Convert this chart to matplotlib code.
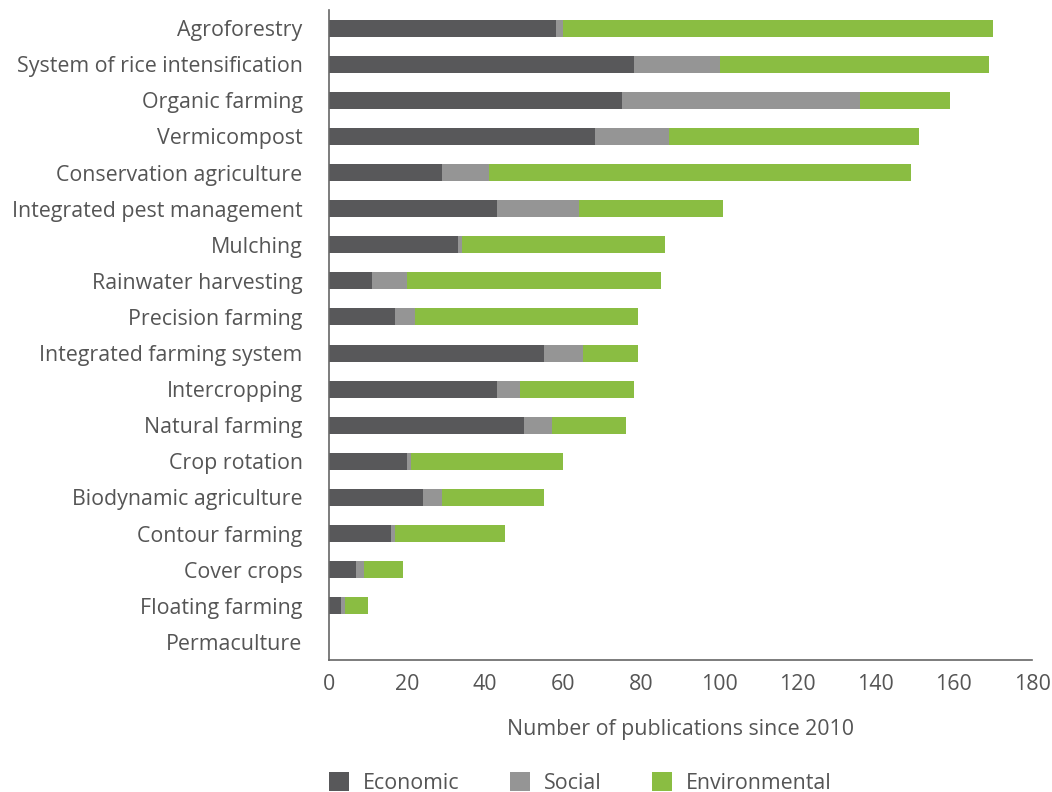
import matplotlib
matplotlib.use("Agg")
import matplotlib.pyplot as plt
import numpy as np

categories = ["Agroforestry", "System of rice intensification", "Organic farming",
              "Vermicompost", "Conservation agriculture", "Integrated pest management",
              "Mulching", "Rainwater harvesting", "Precision farming",
              "Integrated farming system", "Intercropping", "Natural farming",
              "Crop rotation", "Biodynamic agriculture", "Contour farming",
              "Cover crops", "Floating farming", "Permaculture"]
economic = [58, 78, 75, 68, 29, 43, 33, 11, 17, 55, 43, 50, 20, 24, 16, 7, 3, 0]
social = [2, 22, 61, 19, 12, 21, 1, 9, 5, 10, 6, 7, 1, 5, 1, 2, 1, 0]
environmental = [110, 69, 23, 64, 108, 37, 52, 65, 57, 14, 29, 19, 39, 26, 28, 10, 6, 0]
series_names = ["Economic", "Social", "Environmental"]
colors = ["#58585a", "#959595", "#8abd42"]
xticks = [0, 20, 40, 60, 80, 100, 120, 140, 160, 180]

plt.rcParams['font.family'] = ['Open Sans', 'DejaVu Sans']
text_color = "#555555"
fs = 15.4

fig = plt.figure(figsize=(10.52, 7.92), dpi=100)
ax = fig.add_axes([329/1052, 1-660/792, (1032-329)/1052, (660-10)/792])

y = np.arange(len(categories))
e = np.array(economic); s = np.array(social); v = np.array(environmental)
h = 0.47
ax.barh(y, e, height=h, color=colors[0], label=series_names[0])
ax.barh(y, s, left=e, height=h, color=colors[1], label=series_names[1])
ax.barh(y, v, left=e+s, height=h, color=colors[2], label=series_names[2])

ax.set_ylim(len(categories)-0.5, -0.5)
ax.set_xlim(0, 180)
ax.set_yticks(y)
ax.set_yticklabels(categories, fontsize=fs, color=text_color)
ax.set_xticks(xticks)
ax.set_xticklabels([str(t) for t in xticks], fontsize=fs, color=text_color)
ax.tick_params(axis='y', length=0, pad=19)
ax.tick_params(axis='x', length=0, pad=10)
for sp in ["top", "right"]:
    ax.spines[sp].set_visible(False)
for sp in ["left", "bottom"]:
    ax.spines[sp].set_color("#666666")
    ax.spines[sp].set_linewidth(1.2)
ax.set_xlabel("Number of publications since 2010", fontsize=fs, color=text_color, labelpad=17)

fig.legend(loc="lower left", bbox_to_anchor=(319/1052 - 0.005, -0.021), ncol=3, frameon=False,
           fontsize=fs, handlelength=0.95, handleheight=0.95, handletextpad=0.65,
           columnspacing=2.35, borderpad=0.2, labelcolor=text_color)

fig.savefig("out.png", dpi=100)
